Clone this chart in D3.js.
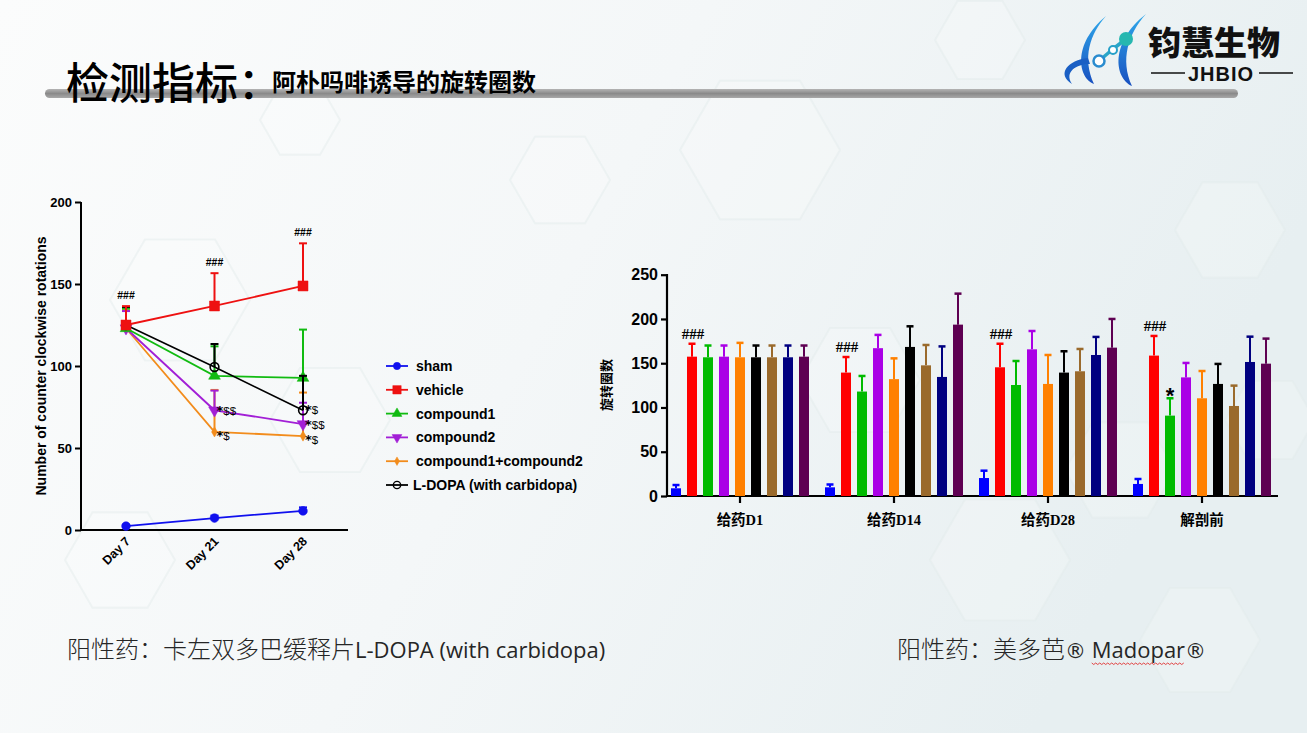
<!DOCTYPE html>
<html><head><meta charset="utf-8">
<script src="https://cdn.jsdelivr.net/npm/d3@7"></script>
<style>
html,body{margin:0;padding:0;background:#fff;}
svg{display:block;}
</style></head>
<body>
<svg id="c" width="1307" height="733"></svg>
<script>
// ---------- DATA ----------
// Left chart (line chart)
const days = ["Day 7", "Day 21", "Day 28"];
const lineNames = ["sham", "vehicle", "compound1", "compound2", "compound1+compound2", "L-DOPA (with carbidopa)"];
const shamMean = [2.4, 7.3, 11.6];
const shamErr = [0.8, 1.5, 2.2];
const vehicleMean = [125, 136.6, 148.8];
const vehicleErr = [11.5, 20, 26];
const compound1Mean = [123, 94, 92.7];
const compound1Err = [12, 18, 29.5];
const compound2Mean = [123, 73, 64.6];
const compound2Err = [10.5, 12, 13];
const comboMean = [123, 59.8, 57.3];
const comboErr = [11, 25.6, 26.5];
const ldopaMean = [125, 99.4, 73];
const ldopaErr = [11, 14, 21];
const leftYTicks = [0, 50, 100, 150, 200];
// annotations on left chart: [series index, day index, text]
const leftHash = [[1, 0, "###"], [1, 1, "###"], [1, 2, "###"]];
const leftStars = [[3, 1, "$$"], [4, 1, "$"], [5, 2, "$"], [3, 2, "$$"], [4, 2, "$"]];

// Right chart (grouped bars)
const groups = ["给药D1", "给药D14", "给药D28", "解剖前"];
const barSeries = ["sham", "vehicle", "compound1", "compound2", "compound1+compound2", "L-DOPA", "s7", "s8", "s9"];
const barMeans = [
  [8.7, 9.8, 20.3, 13.6],
  [157.4, 139.4, 145.4, 158.6],
  [156.7, 118, 125.4, 90.8],
  [157.4, 167, 165.7, 134],
  [156.7, 132, 126.6, 110.4],
  [156.7, 168.4, 139.4, 126.6],
  [156.7, 147.6, 140.9, 101.7],
  [156.7, 134.5, 159.3, 151.4],
  [157.4, 193.6, 167.6, 149.5]
];
const barErrTop = [
  [12.4, 13, 28.6, 19.2],
  [172, 157, 172, 180.8],
  [170, 135.6, 152.5, 110.4],
  [170, 182, 186.4, 150.3],
  [173, 155.5, 159.3, 141.2],
  [170, 191.7, 163.5, 149.2],
  [170, 170.6, 166.1, 124.7],
  [170, 169, 179.7, 180],
  [170, 228.6, 200, 177.8]
];
const rightYTicks = [0, 50, 100, 150, 200, 250];
const rightHash = [[1, 0, "###"], [1, 1, "###"], [1, 2, "###"], [1, 3, "###"]];
const rightStars = [[2, 3, "*"]];

// ---------- STYLE ----------
const lineColors = ["#1010ee", "#ee1111", "#11bb11", "#a21fd6", "#f28c1c", "#000000"];
const barColors = ["#0000ff", "#ff0000", "#00bb00", "#aa00e6", "#ff8000", "#000000", "#9a6a2c", "#000080", "#5e0052"];
const annOffset = {3: 4.5, 4: 8, 5: 4};

const svg = d3.select("#c");

// ---------- BACKGROUND ----------
const defs = svg.append("defs");
const bg = defs.append("linearGradient").attr("id", "bg").attr("x1", "0").attr("y1", "0").attr("x2", "1").attr("y2", "0.3");
bg.append("stop").attr("offset", "0").attr("stop-color", "#fbfcfc");
bg.append("stop").attr("offset", "0.5").attr("stop-color", "#f4f7f8");
bg.append("stop").attr("offset", "1").attr("stop-color", "#e7eff1");
svg.append("rect").attr("width", 1307).attr("height", 733).attr("fill", "url(#bg)");

// faint hexagons
const hexes = [[180, 300, 70], [330, 420, 60], [120, 560, 55], [760, 150, 80], [1230, 230, 55], [1200, 640, 60], [1000, 560, 70], [980, 40, 45], [560, 180, 50], [1270, 420, 45], [300, 120, 40], [860, 380, 60], [1120, 470, 55]];
const hexPath = (cx, cy, r) => {
  const pts = d3.range(6).map(i => [cx + r * Math.cos(Math.PI / 3 * i), cy + r * Math.sin(Math.PI / 3 * i)]);
  return "M" + pts.join("L") + "Z";
};
svg.append("g").selectAll("path").data(hexes).join("path")
  .attr("d", d => hexPath(d[0], d[1], d[2]))
  .attr("fill", "#ffffff").attr("fill-opacity", 0.2)
  .attr("stroke", "#e2eaec").attr("stroke-width", 2).attr("stroke-opacity", 0.45);

// ---------- HEADER ----------
const barG = defs.append("linearGradient").attr("id", "hb").attr("x1", "0").attr("y1", "0").attr("x2", "0").attr("y2", "1");
barG.append("stop").attr("offset", "0").attr("stop-color", "#b4b4b4");
barG.append("stop").attr("offset", "0.5").attr("stop-color", "#8a8a8a");
barG.append("stop").attr("offset", "1").attr("stop-color", "#a8a8a8");
svg.append("rect").attr("x", 45).attr("y", 89).attr("width", 1193).attr("height", 9).attr("rx", 4.5)
  .attr("fill", "url(#hb)");

svg.append("text").attr("x", 66).attr("y", 99)
  .attr("font-family", "Noto Sans CJK SC").attr("font-size", 43).attr("font-weight", 500).attr("fill", "#000")
  .text("检测指标：");
svg.append("text").attr("x", 272).attr("y", 91)
  .attr("font-family", "Noto Sans CJK SC").attr("font-size", 24).attr("font-weight", 700).attr("fill", "#000")
  .text("阿朴吗啡诱导的旋转圈数");

// logo
const logo = svg.append("g");
const lg = defs.append("linearGradient").attr("id", "lg").attr("x1", "0").attr("y1", "0").attr("x2", "0").attr("y2", "1");
lg.append("stop").attr("offset", "0").attr("stop-color", "#2fa8ea");
lg.append("stop").attr("offset", "1").attr("stop-color", "#1850c0");
logo.append("path").attr("d", "M1106,16 C1090,34 1082,58 1094,84 C1078,78 1072,44 1106,16 Z").attr("fill", "url(#lg)");
logo.append("path").attr("d", "M1146,14 C1128,34 1120,60 1132,86 C1114,78 1110,42 1146,14 Z").attr("fill", "url(#lg)");
logo.append("path").attr("d", "M1088,58 C1068,60 1056,74 1072,84 C1064,72 1076,64 1090,64 Z").attr("fill", "#1a5fc4");
logo.append("line").attr("x1", 1100).attr("y1", 60).attr("x2", 1113).attr("y2", 49).attr("stroke", "#2aa6c8").attr("stroke-width", 3.5);
logo.append("line").attr("x1", 1113).attr("y1", 49).attr("x2", 1126).attr("y2", 39).attr("stroke", "#2aa6c8").attr("stroke-width", 3.5);
logo.append("circle").attr("cx", 1126).attr("cy", 39).attr("r", 7).attr("fill", "#26b7b0");
logo.append("circle").attr("cx", 1113).attr("cy", 50).attr("r", 4).attr("fill", "#ffffff").attr("stroke", "#26a0c8").attr("stroke-width", 2);
logo.append("circle").attr("cx", 1099).attr("cy", 61).attr("r", 5.5).attr("fill", "#ffffff").attr("stroke", "#2a8ccf").attr("stroke-width", 2.5);
logo.append("text").attr("x", 1148).attr("y", 55)
  .attr("font-family", "Noto Sans CJK SC").attr("font-size", 33).attr("font-weight", 900).attr("fill", "#111")
  .text("钧慧生物");
logo.append("text").attr("x", 1221).attr("y", 81).attr("text-anchor", "middle")
  .attr("font-family", "Liberation Sans").attr("font-size", 20).attr("font-weight", 700).attr("fill", "#111")
  .attr("letter-spacing", 1).text("JHBIO");
logo.append("line").attr("x1", 1151).attr("x2", 1185).attr("y1", 73).attr("y2", 73).attr("stroke", "#111").attr("stroke-width", 1.5);
logo.append("line").attr("x1", 1259).attr("x2", 1293).attr("y1", 73).attr("y2", 73).attr("stroke", "#111").attr("stroke-width", 1.5);

// ---------- LEFT CHART ----------
const lx = d3.scalePoint().domain(days).range([126, 303]);
const ly = d3.scaleLinear().domain([0, 200]).range([530, 202]);
const L = svg.append("g");

// axes
L.append("g").attr("transform", "translate(81,0)")
  .call(d3.axisLeft(ly).tickValues(leftYTicks).tickSize(6).tickPadding(3))
  .call(g => g.select(".domain").attr("stroke-width", 2).attr("d", "M0,202V531"))
  .call(g => g.selectAll(".tick line").attr("stroke-width", 2))
  .call(g => g.selectAll(".tick text").attr("font-family", "Liberation Sans").attr("font-weight", 700).attr("font-size", 13).attr("fill", "#000"));
L.append("g").attr("transform", "translate(0,530)")
  .call(d3.axisBottom(lx).tickSize(0).tickFormat(() => ""))
  .call(g => g.select(".domain").attr("stroke-width", 2).attr("d", "M80,0H348"));
L.selectAll(".xl").data(days).join("text").attr("class", "xl")
  .attr("transform", d => `translate(${lx(d) + 5},${542}) rotate(-45)`)
  .attr("text-anchor", "end")
  .attr("font-family", "Liberation Sans").attr("font-weight", 700).attr("font-size", 12.5).attr("fill", "#000")
  .text(d => d);
L.append("text").attr("transform", "translate(46,366) rotate(-90)").attr("text-anchor", "middle")
  .attr("font-family", "Liberation Sans").attr("font-weight", 700).attr("font-size", 14).attr("fill", "#000")
  .text("Number of counter clockwise rotations");

const means = [shamMean, vehicleMean, compound1Mean, compound2Mean, comboMean, ldopaMean];
const errs = [shamErr, vehicleErr, compound1Err, compound2Err, comboErr, ldopaErr];
const symbols = [
  {t: d3.symbolCircle, s: 60, rot: 0, fill: true},
  {t: d3.symbolSquare, s: 100, rot: 0, fill: true},
  {t: d3.symbolTriangle, s: 60, rot: 0, fill: true},
  {t: d3.symbolTriangle, s: 60, rot: 180, fill: true},
  {t: d3.symbolDiamond, s: 30, rot: 0, fill: true},
  {t: d3.symbolCircle, s: 60, rot: 0, fill: false}
];
const drawOrder = [0, 4, 3, 2, 5, 1];
const lineGen = d3.line().x((d, i) => lx(days[i])).y(d => ly(d));
drawOrder.forEach(k => {
  const g = L.append("g");
  const col = lineColors[k];
  // error bars (upper only)
  means[k].forEach((m, i) => {
    const x = lx(days[i]);
    g.append("line").attr("x1", x).attr("x2", x).attr("y1", ly(m)).attr("y2", ly(m + errs[k][i])).attr("stroke", col).attr("stroke-width", 2);
    g.append("line").attr("x1", x - 4).attr("x2", x + 4).attr("y1", ly(m + errs[k][i])).attr("y2", ly(m + errs[k][i])).attr("stroke", col).attr("stroke-width", 2);
  });
  g.append("path").attr("d", lineGen(means[k])).attr("fill", "none").attr("stroke", col).attr("stroke-width", k === 5 ? 1.6 : 1.8);
  const sy = symbols[k];
  g.selectAll("path.m").data(means[k]).join("path").attr("class", "m")
    .attr("d", d3.symbol().type(sy.t).size(sy.s))
    .attr("transform", (d, i) => `translate(${lx(days[i])},${ly(d)}) rotate(${sy.rot})`)
    .attr("fill", sy.fill ? col : "none").attr("stroke", col).attr("stroke-width", sy.fill ? 0.5 : 1.6);
});
// annotations
L.selectAll(".lh").data(leftHash).join("text").attr("class", "lh")
  .attr("x", d => lx(days[d[1]])).attr("y", d => ly(means[d[0]][d[1]] + errs[d[0]][d[1]]) - 7)
  .attr("text-anchor", "middle").attr("font-family", "Liberation Sans").attr("font-weight", 700).attr("font-size", 10.5).attr("fill", "#000")
  .text(d => d[2]);
const starT = L.selectAll(".ls").data(leftStars).join("text").attr("class", "ls")
  .attr("x", d => lx(days[d[1]]) + 2).attr("y", d => ly(means[d[0]][d[1]]) + annOffset[d[0]])
  .attr("font-family", "Liberation Sans").attr("font-size", 11.5).attr("fill", "#000");
starT.append("tspan").attr("font-family", "DejaVu Sans").attr("font-weight", 700).attr("font-size", 13).text("*");
starT.append("tspan").text(d => d[2]);

// legend
const legY = d3.scalePoint().domain(lineNames).range([366, 485]);
const Lg = svg.append("g");
lineNames.forEach((n, k) => {
  const y = legY(n);
  const col = lineColors[k];
  Lg.append("line").attr("x1", 386).attr("x2", 408).attr("y1", y).attr("y2", y).attr("stroke", col).attr("stroke-width", 1.8);
  const sy = symbols[k];
  Lg.append("path").attr("d", d3.symbol().type(sy.t).size(sy.s * 0.7)())
    .attr("transform", `translate(397,${y}) rotate(${sy.rot})`)
    .attr("fill", sy.fill ? col : "none").attr("stroke", col).attr("stroke-width", sy.fill ? 0.5 : 1.4);
  Lg.append("text").attr("x", k === 5 ? 413 : 416).attr("y", y + 5)
    .attr("font-family", "Liberation Sans").attr("font-weight", 700).attr("font-size", 14).attr("fill", "#000")
    .text(n);
});

// ---------- RIGHT CHART ----------
const rx0 = d3.scaleBand().domain(groups).range([663, 1279]);
const rx1 = d3.scaleBand().domain(d3.range(9)).range([-72, 72]).paddingInner(0.375).paddingOuter(0.1875);
const ry = d3.scaleLinear().domain([0, 250]).range([496, 274.7]);
const R = svg.append("g");

R.append("g").attr("transform", "translate(667,0)")
  .call(d3.axisLeft(ry).tickValues(rightYTicks).tickSize(6).tickPadding(3))
  .call(g => g.select(".domain").attr("stroke-width", 2.2).attr("d", "M0,274V497"))
  .call(g => g.selectAll(".tick line").attr("stroke-width", 2.2))
  .call(g => g.selectAll(".tick text").attr("font-family", "Liberation Sans").attr("font-weight", 700).attr("font-size", 16).attr("fill", "#000"));
R.append("g").attr("transform", "translate(0,496)")
  .call(d3.axisBottom(rx0).tickSize(7).tickFormat(() => ""))
  .call(g => g.select(".domain").attr("stroke-width", 2.2).attr("d", "M666,0H1278"))
  .call(g => g.selectAll(".tick line").attr("stroke-width", 2.2));
R.selectAll(".gx").data(groups).join("text").attr("class", "gx")
  .attr("x", d => rx0(d) + rx0.bandwidth() / 2).attr("y", 525)
  .attr("text-anchor", "middle").attr("font-family", "Liberation Serif, Noto Sans CJK SC").attr("font-weight", 700).attr("font-size", 14.5).attr("fill", "#000")
  .text(d => d);
R.append("text").attr("transform", "translate(611,385) rotate(-90)").attr("text-anchor", "middle")
  .attr("font-family", "Noto Sans CJK SC").attr("font-weight", 700).attr("font-size", 13).attr("fill", "#000")
  .text("旋转圈数");

const bw = rx1.bandwidth();
barMeans.forEach((vals, s) => {
  const col = barColors[s];
  const g = R.append("g");
  vals.forEach((v, gi) => {
    const cx = rx0(groups[gi]) + rx0.bandwidth() / 2 + rx1(s) + bw / 2;
    const top = barErrTop[s][gi];
    g.append("line").attr("x1", cx).attr("x2", cx).attr("y1", ry(v)).attr("y2", ry(top)).attr("stroke", col).attr("stroke-width", 2);
    g.append("line").attr("x1", cx - 3.5).attr("x2", cx + 3.5).attr("y1", ry(top)).attr("y2", ry(top)).attr("stroke", col).attr("stroke-width", 2.5);
    g.append("rect").attr("x", cx - bw / 2).attr("y", ry(v)).attr("width", bw).attr("height", ry(0) - ry(v)).attr("fill", col);
  });
});
const barCx = (s, gi) => rx0(groups[gi]) + rx0.bandwidth() / 2 + rx1(s) + bw / 2;
R.selectAll(".rh").data(rightHash).join("text").attr("class", "rh")
  .attr("x", d => barCx(d[0], d[1]) + 1).attr("y", d => ry(barErrTop[d[0]][d[1]]) - 5)
  .attr("text-anchor", "middle").attr("font-family", "Liberation Serif").attr("font-weight", 700).attr("font-size", 15).attr("fill", "#000")
  .text(d => d[2]);
R.selectAll(".rs").data(rightStars).join("text").attr("class", "rs")
  .attr("x", d => barCx(d[0], d[1])).attr("y", d => ry(barErrTop[d[0]][d[1]]) + 5)
  .attr("text-anchor", "middle").attr("font-family", "Liberation Sans").attr("font-weight", 700).attr("font-size", 22).attr("fill", "#000")
  .text(d => d[2]);

// ---------- FOOTER TEXT ----------
const cjk = {"font-family": "Noto Sans CJK SC", "font-size": 24, "font-weight": 300};
const lat = {"font-family": "Open Sans", "font-size": 22, "font-weight": 400};
const reg = {"font-family": "DejaVu Sans", "font-size": 21, "font-weight": 400};
const addSpan = (t, txt, st) => { const s = t.append("tspan").text(txt); Object.entries(st).forEach(([k, v]) => s.attr(k, v)); return s; };
const f1 = svg.append("text").attr("x", 67).attr("y", 658).attr("fill", "#262626");
addSpan(f1, "阳性药：卡左双多巴缓释片", cjk);
addSpan(f1, "L-DOPA (with carbidopa)", lat);
const f2 = svg.append("text").attr("x", 897).attr("y", 658).attr("fill", "#262626");
addSpan(f2, "阳性药：美多芭", cjk);
addSpan(f2, "®", reg);
addSpan(f2, " ", lat);
const mad = addSpan(f2, "Madopar", lat);
addSpan(f2, "®", reg);
// spell-check squiggle under Madopar (placed from the rendered word)
const mb = mad.node().getExtentOfChar(0);
const me = mad.node().getExtentOfChar(6);
const x0 = mb.x, x1 = me.x + me.width;
const sq = d3.range(0, Math.floor((x1 - x0) / 2) + 1).map(i => [x0 + i * 2, 663 + (i % 2 ? 1.5 : 0)]);
svg.append("path").attr("d", d3.line()(sq)).attr("fill", "none").attr("stroke", "#e03030").attr("stroke-width", 0.9);
</script>
</body></html>
